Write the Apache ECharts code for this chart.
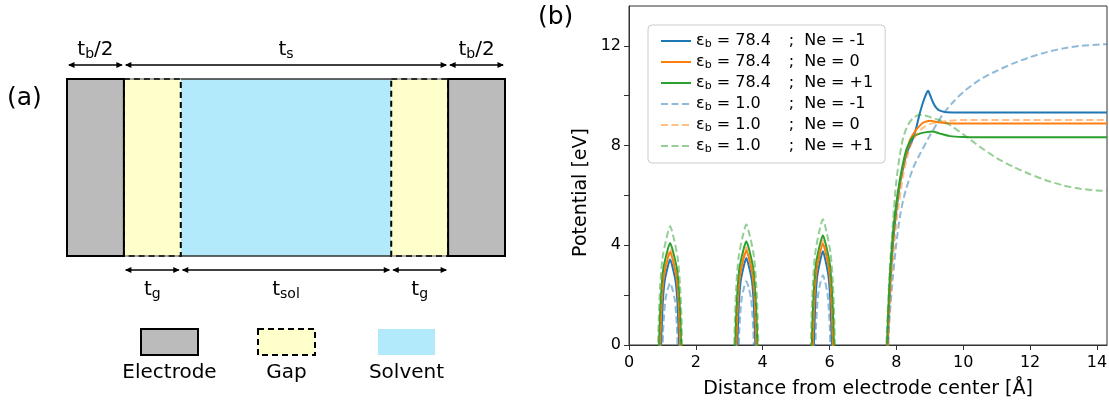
<!DOCTYPE html>
<html><head><meta charset="utf-8">
<script src="https://cdn.jsdelivr.net/npm/echarts@6/dist/echarts.min.js"></script>
<style>html,body{margin:0;padding:0;background:#fff}#c{width:1109px;height:400px}</style>
</head><body><div id="c"></div>
<script>
// ---------- panel (a): cell layout (arbitrary length units) ----------
const cellKinds = ['Electrode', 'Gap', 'Solvent'];
const cellWidths = [1.0, 1.0, 3.7, 1.0, 1.0];          // tb/2, tg, tsol, tg, tb/2
const cellKindIdx = [0, 1, 2, 1, 0];
const cellHeight = 3.1;
const topDimLabels = [['t', 'b', '/2'], ['t', 's', ''], ['t', 'b', '/2']];
const topDimSpans = [[0, 1], [1, 4], [4, 5]];            // boundary indices
const bottomDimLabels = [['t', 'g', ''], ['t', 'sol', ''], ['t', 'g', '']];
const bottomDimSpans = [[1, 2], [2, 3], [3, 4]];

// ---------- panel (b): potential profiles ----------
const epsLabels = ['78.4', '78.4', '78.4', '1.0', '1.0', '1.0'];
const neLabels = ['-1', '0', '+1', '-1', '0', '+1'];
const xTicks = [0, 2, 4, 6, 8, 10, 12, 14];
const yTicks = [0, 4, 8, 12];

const pot784_m1 = [
  [0.94,-2],[0.96,0],[0.98,0.75],[1.01,1.68],[1.06,2.50],[1.15,3.09],[1.23,3.43],[1.31,3.09],[1.40,2.50],[1.45,1.68],[1.48,0.75],[1.50,0],[1.52,-2],
  [3.22,-2],[3.24,0],[3.26,0.77],[3.29,1.71],[3.34,2.55],[3.43,3.14],[3.51,3.49],[3.59,3.14],[3.68,2.55],[3.73,1.71],[3.76,0.77],[3.78,0],[3.80,-2],
  [5.51,-2],[5.53,0],[5.55,0.83],[5.58,1.84],[5.63,2.74],[5.72,3.38],[5.80,3.76],[5.88,3.38],[5.97,2.74],[6.02,1.84],[6.05,0.83],[6.07,0],[6.09,-2],
  [7.72,-2],[7.74,0],[7.80,2.1],[7.90,4.1],[8.00,5.4],[8.10,6.4],[8.20,7.1],[8.30,7.65],[8.40,8.0],[8.50,8.3],[8.60,8.75],[8.70,9.3],[8.80,9.75],[8.90,10.1],[8.95,10.2],[9.00,10.05],[9.10,9.72],[9.20,9.5],[9.30,9.4],[9.50,9.34],[10.0,9.33],[12.0,9.33],[14.3,9.33]
];
const pot784_0 = [
  [0.91,-2],[0.93,0],[0.95,0.82],[0.98,1.83],[1.04,2.72],[1.14,3.36],[1.23,3.73],[1.32,3.36],[1.42,2.72],[1.48,1.83],[1.51,0.82],[1.53,0],[1.55,-2],
  [3.19,-2],[3.21,0],[3.23,0.84],[3.26,1.86],[3.32,2.77],[3.42,3.42],[3.51,3.80],[3.60,3.42],[3.70,2.77],[3.76,1.86],[3.79,0.84],[3.81,0],[3.83,-2],
  [5.48,-2],[5.50,0],[5.52,0.90],[5.55,1.99],[5.61,2.97],[5.71,3.66],[5.80,4.07],[5.89,3.66],[5.99,2.97],[6.05,1.99],[6.08,0.90],[6.10,0],[6.12,-2],
  [7.71,-2],[7.73,0],[7.80,2.4],[7.90,4.4],[8.00,5.6],[8.10,6.5],[8.20,7.2],[8.30,7.75],[8.40,8.2],[8.50,8.45],[8.60,8.65],[8.70,8.8],[8.80,8.92],[9.02,9.0],[9.20,8.95],[9.50,8.9],[10.0,8.89],[12.0,8.89],[14.3,8.89]
];
const pot784_p1 = [
  [0.88,-2],[0.90,0],[0.92,0.90],[0.96,2.00],[1.02,2.99],[1.13,3.68],[1.23,4.09],[1.33,3.68],[1.44,2.99],[1.50,2.00],[1.54,0.90],[1.56,0],[1.58,-2],
  [3.16,-2],[3.18,0],[3.20,0.92],[3.24,2.04],[3.30,3.04],[3.41,3.74],[3.51,4.16],[3.61,3.74],[3.72,3.04],[3.78,2.04],[3.82,0.92],[3.84,0],[3.86,-2],
  [5.45,-2],[5.47,0],[5.49,0.97],[5.53,2.16],[5.59,3.21],[5.70,3.96],[5.80,4.40],[5.90,3.96],[6.01,3.21],[6.07,2.16],[6.11,0.97],[6.13,0],[6.15,-2],
  [7.70,-2],[7.72,0],[7.80,2.6],[7.90,4.5],[8.00,5.7],[8.10,6.6],[8.20,7.3],[8.30,7.85],[8.40,8.15],[8.50,8.35],[8.70,8.48],[8.90,8.54],[9.07,8.57],[9.30,8.48],[9.60,8.38],[10.0,8.34],[10.5,8.33],[12.0,8.33],[14.3,8.33]
];
const pot10_m1 = [
  [0.99,-2],[1.01,0],[1.02,0.55],[1.05,1.22],[1.09,1.82],[1.16,2.24],[1.23,2.49],[1.30,2.24],[1.37,1.82],[1.41,1.22],[1.44,0.55],[1.45,0],[1.47,-2],
  [3.27,-2],[3.29,0],[3.30,0.56],[3.33,1.25],[3.37,1.87],[3.44,2.30],[3.51,2.56],[3.58,2.30],[3.65,1.87],[3.69,1.25],[3.72,0.56],[3.73,0],[3.75,-2],
  [5.56,-2],[5.58,0],[5.59,0.62],[5.62,1.37],[5.66,2.04],[5.73,2.52],[5.80,2.80],[5.87,2.52],[5.94,2.04],[5.98,1.37],[6.01,0.62],[6.02,0],[6.04,-2],
  [7.74,-2],[7.76,0],[7.80,1.2],[7.90,2.8],[8.00,4.1],[8.10,5.1],[8.20,5.8],[8.30,6.3],[8.50,7.1],[8.70,7.65],[9.00,8.4],[9.20,8.85],[9.40,9.28],[9.70,9.75],[10.0,10.15],[10.5,10.65],[11.0,11.0],[11.5,11.3],[12.0,11.55],[12.5,11.75],[13.0,11.9],[13.5,12.0],[14.0,12.05],[14.3,12.07]
];
const pot10_0 = [
  [0.90,-2],[0.92,0],[0.94,0.85],[0.98,1.89],[1.03,2.81],[1.14,3.47],[1.23,3.85],[1.32,3.47],[1.43,2.81],[1.48,1.89],[1.52,0.85],[1.54,0],[1.56,-2],
  [3.18,-2],[3.20,0],[3.22,0.86],[3.26,1.92],[3.31,2.86],[3.42,3.53],[3.51,3.92],[3.60,3.53],[3.71,2.86],[3.76,1.92],[3.80,0.86],[3.82,0],[3.84,-2],
  [5.47,-2],[5.49,0],[5.51,0.92],[5.55,2.06],[5.60,3.07],[5.71,3.78],[5.80,4.20],[5.89,3.78],[6.00,3.07],[6.05,2.06],[6.09,0.92],[6.11,0],[6.13,-2],
  [7.73,-2],[7.75,0],[7.85,2.6],[8.00,4.9],[8.20,6.8],[8.35,7.7],[8.47,8.13],[8.60,8.45],[8.80,8.72],[9.00,8.86],[9.22,8.93],[9.50,8.99],[9.80,9.02],[10.2,9.03],[12.0,9.03],[14.3,9.03]
];
const pot10_p1 = [
  [0.85,-2],[0.87,0],[0.89,1.05],[0.93,2.33],[1.00,3.47],[1.12,4.28],[1.23,4.76],[1.34,4.28],[1.46,3.47],[1.53,2.33],[1.57,1.05],[1.59,0],[1.61,-2],
  [3.13,-2],[3.15,0],[3.17,1.06],[3.21,2.37],[3.28,3.53],[3.40,4.35],[3.51,4.83],[3.62,4.35],[3.74,3.53],[3.81,2.37],[3.85,1.06],[3.87,0],[3.89,-2],
  [5.42,-2],[5.44,0],[5.46,1.11],[5.50,2.47],[5.57,3.68],[5.69,4.54],[5.80,5.04],[5.91,4.54],[6.03,3.68],[6.10,2.47],[6.14,1.11],[6.16,0],[6.18,-2],
  [7.68,-2],[7.70,0],[7.80,3.0],[7.90,5.0],[8.00,6.6],[8.10,7.6],[8.20,8.3],[8.30,8.7],[8.40,8.95],[8.50,9.1],[8.67,9.23],[8.80,9.22],[9.00,9.15],[9.50,8.9],[10.0,8.45],[10.5,7.95],[11.0,7.5],[11.5,7.15],[12.0,6.85],[12.5,6.6],[13.0,6.4],[13.5,6.27],[14.0,6.2],[14.3,6.18]
];

const seriesData = [pot784_m1, pot784_0, pot784_p1, pot10_m1, pot10_0, pot10_p1];
const seriesColors = ['#1f77b4', '#ff7f0e', '#2ca02c', '#1f77b4', '#ff7f0e', '#2ca02c'];
const seriesDashed = [false, false, false, true, true, true];
const seriesNames = epsLabels.map((e, i) => 'εb = ' + e + ' ; Ne = ' + neLabels[i]);

const FONT = 'DejaVu Sans';

// ---------- derived layout of panel (a) ----------
const bounds = cellWidths.reduce((a, w) => { a.push(+(a[a.length - 1] + w).toFixed(4)); return a; }, [0]);
const drawOrder = [2, 1, 0];
const cells = [];
drawOrder.forEach(k => cellWidths.forEach((w, i) => { if (cellKindIdx[i] === k) cells.push([bounds[i], bounds[i + 1], k]); }));
const dims = [];
topDimSpans.forEach((s, i) => dims.push([bounds[s[0]], bounds[s[1]], 1, i]));
bottomDimSpans.forEach((s, i) => dims.push([bounds[s[0]], bounds[s[1]], -1, i]));

const cellFill = ['#bbbbbb', '#ffffcc', '#b3eafb'];

function renderCell(params, api) {
  const x0 = api.value(0), x1 = api.value(1), k = api.value(2);
  const p0 = api.coord([x0, cellHeight]);
  const p1 = api.coord([x1, 0]);
  const shape = { x: p0[0], y: p0[1], width: p1[0] - p0[0], height: p1[1] - p0[1] };
  if (k === 2) {
    return { type: 'group', children: [
      { type: 'rect', shape: shape, style: { fill: cellFill[2] } },
      { type: 'line', shape: { x1: p0[0], y1: p0[1], x2: p1[0], y2: p0[1] }, style: { stroke: '#333', lineWidth: 1.5 } },
      { type: 'line', shape: { x1: p0[0], y1: p1[1], x2: p1[0], y2: p1[1] }, style: { stroke: '#333', lineWidth: 1.5 } }
    ] };
  }
  if (k === 1) {
    return { type: 'group', children: [
      { type: 'rect', shape: shape, style: { fill: cellFill[1], stroke: '#000', lineWidth: 2, lineDash: [6, 4] } },
      { type: 'line', shape: { x1: p0[0], y1: p0[1], x2: p1[0], y2: p0[1] }, style: { stroke: '#555', lineWidth: 1 } },
      { type: 'line', shape: { x1: p0[0], y1: p1[1], x2: p1[0], y2: p1[1] }, style: { stroke: '#555', lineWidth: 1 } }
    ] };
  }
  return { type: 'rect', shape: shape, style: { fill: cellFill[0], stroke: '#000', lineWidth: 2 } };
}

function head(tipX, y, dir) {
  const L = 6.5, H = 3;
  return { type: 'polygon', shape: { points: [[tipX, y], [tipX - dir * L, y - H], [tipX - dir * L, y + H]] }, style: { fill: '#000' } };
}

function renderDim(params, api) {
  const x0 = api.value(0), x1 = api.value(1), side = api.value(2), li = api.value(3);
  const pa = api.coord([x0, side > 0 ? cellHeight : 0]);
  const pb = api.coord([x1, side > 0 ? cellHeight : 0]);
  const y = pa[1] - side * 14;
  const ty = pa[1] - side * (side > 0 ? 29 : 34);
  const lab = side > 0 ? topDimLabels[li] : bottomDimLabels[li];
  const txt = '{m|' + lab[0] + '}{s|' + lab[1] + '}' + (lab[2] ? '{m|' + lab[2] + '}' : '');
  return { type: 'group', children: [
    { type: 'line', shape: { x1: pa[0] + 2, y1: y, x2: pb[0] - 2, y2: y }, style: { stroke: '#000', lineWidth: 1.5 } },
    head(pa[0] + 1, y, -1),
    head(pb[0] - 1, y, 1),
    { type: 'text', style: { text: txt, x: (pa[0] + pb[0]) / 2, y: ty, align: 'center', verticalAlign: 'middle',
      rich: { m: { fontSize: 20, fontFamily: FONT, fill: '#000', lineHeight: 22 },
              s: { fontSize: 14, fontFamily: FONT, fill: '#000', lineHeight: 8, verticalAlign: 'bottom' } } } }
  ] };
}

const lineSeries = seriesData.map((d, i) => ({
  name: seriesNames[i],
  type: 'line',
  xAxisIndex: 0, yAxisIndex: 0,
  data: d,
  showSymbol: false, symbol: 'none',
  smooth: 0.25,
  clip: true,
  lineStyle: { color: seriesColors[i], width: 2, type: seriesDashed[i] ? [7, 3.5] : 'solid', opacity: seriesDashed[i] ? 0.5 : 1 },
  itemStyle: { color: seriesColors[i], opacity: seriesDashed[i] ? 0.5 : 1 },
  emphasis: { disabled: true },
  z: seriesDashed[i] ? 3 : 2
}));

const option = {
  animation: false,
  backgroundColor: '#fff',
  textStyle: { fontFamily: FONT },
  grid: [
    { left: 629, top: 6, right: 2, bottom: 55, show: true, borderColor: '#333', borderWidth: 1, backgroundColor: 'transparent',
      containLabel: false, outerBoundsMode: 'none' },
    { left: 67, top: 79, width: 438, height: 177, show: false, containLabel: false, outerBoundsMode: 'none' }
  ],
  xAxis: [
    { type: 'value', gridIndex: 0, min: 0, max: 14.3, interval: 2,
      name: 'Distance from electrode center [Å]', nameLocation: 'middle', nameGap: 35,
      nameTextStyle: { fontSize: 19, color: '#000', fontFamily: FONT },
      axisLine: { show: true, lineStyle: { color: '#333', width: 1 } },
      axisTick: { show: true, inside: false, length: 5, lineStyle: { color: '#333' } },
      axisLabel: { fontSize: 16, color: '#000', margin: 10, fontFamily: FONT, showMaxLabel: false,
        formatter: v => (xTicks.indexOf(v) >= 0 ? String(v) : '') },
      splitLine: { show: false } },
    { type: 'value', gridIndex: 1, min: 0, max: 7.7, show: false }
  ],
  yAxis: [
    { type: 'value', gridIndex: 0, min: 0, max: 13.6, interval: 2,
      name: 'Potential [eV]', nameLocation: 'middle', nameGap: 38, nameRotate: 90,
      nameTextStyle: { fontSize: 19, color: '#000', fontFamily: FONT, padding: [0, 34, 0, 0] },
      axisLine: { show: true, lineStyle: { color: '#333', width: 1 } },
      axisTick: { show: true, inside: false, length: 5, lineStyle: { color: '#333' } },
      axisLabel: { fontSize: 16, color: '#000', margin: 8, fontFamily: FONT, showMaxLabel: false,
        formatter: v => (yTicks.indexOf(v) >= 0 ? String(v) : '') },
      splitLine: { show: false } },
    { type: 'value', gridIndex: 1, min: 0, max: cellHeight, show: false }
  ],
  legend: {
    data: seriesNames,
    orient: 'vertical',
    left: 648, top: 25,
    padding: [8, 12, 8, 12],
    itemWidth: 30, itemHeight: 10, itemGap: 4,
    itemStyle: { opacity: 0 },
    backgroundColor: 'rgba(255,255,255,0.85)',
    borderColor: '#cccccc', borderWidth: 1, borderRadius: 4,
    selectedMode: false,
    formatter: name => {
      const i = seriesNames.indexOf(name);
      return '{e|ε}{s|b}{v| = ' + epsLabels[i] + '}{r|;  Ne = ' + neLabels[i] + '}';
    },
    textStyle: {
      fontFamily: FONT, fontSize: 16, color: '#000',
      rich: {
        e: { fontSize: 16, fontFamily: FONT, lineHeight: 18, color: '#000' },
        s: { fontSize: 11, fontFamily: FONT, lineHeight: 7, verticalAlign: 'bottom', color: '#000' },
        v: { fontSize: 16, fontFamily: FONT, lineHeight: 18, width: 77, color: '#000' },
        r: { fontSize: 16, fontFamily: FONT, lineHeight: 18, color: '#000' }
      }
    }
  },
  graphic: [
    { type: 'text', left: 7, top: 86, style: { text: '(a)', fontSize: 25, fontFamily: FONT, fill: '#000' } },
    { type: 'text', left: 538, top: 5, style: { text: '(b)', fontSize: 25, fontFamily: FONT, fill: '#000' } },
    { type: 'rect', shape: { x: 141, y: 329, width: 57, height: 26 }, style: { fill: cellFill[0], stroke: '#000', lineWidth: 2 } },
    { type: 'rect', shape: { x: 258, y: 329, width: 57, height: 26 }, style: { fill: cellFill[1], stroke: '#000', lineWidth: 2, lineDash: [6, 4] } },
    { type: 'rect', shape: { x: 378, y: 329, width: 57, height: 26 }, style: { fill: cellFill[2] } },
    { type: 'text', x: 169.5, y: 373, style: { text: cellKinds[0], fontSize: 20, fontFamily: FONT, fill: '#000', align: 'center', verticalAlign: 'middle' } },
    { type: 'text', x: 286.5, y: 373, style: { text: cellKinds[1], fontSize: 20, fontFamily: FONT, fill: '#000', align: 'center', verticalAlign: 'middle' } },
    { type: 'text', x: 406.5, y: 373, style: { text: cellKinds[2], fontSize: 20, fontFamily: FONT, fill: '#000', align: 'center', verticalAlign: 'middle' } }
  ],
  series: [
    { type: 'custom', name: 'cells', xAxisIndex: 1, yAxisIndex: 1, data: cells, renderItem: renderCell, silent: true, z: 1 },
    { type: 'custom', name: 'dims', xAxisIndex: 1, yAxisIndex: 1, data: dims, renderItem: renderDim, silent: true, z: 2 }
  ].concat(lineSeries)
};

const chart = echarts.init(document.getElementById('c'), null, { renderer: 'canvas' });
chart.setOption(option);
</script>
</body></html>
